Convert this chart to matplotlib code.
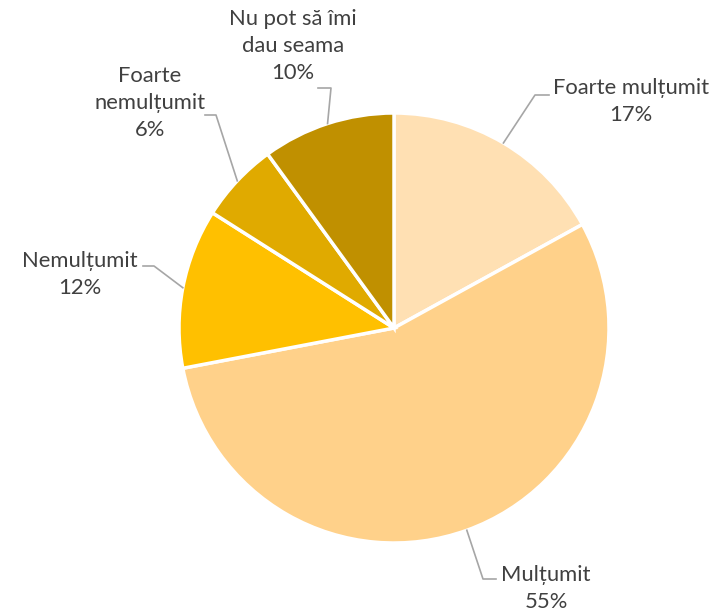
import numpy as np
import matplotlib.pyplot as plt

# data
labels = ['Foarte mulțumit', 'Mulțumit', 'Nemulțumit', 'Foarte\nnemulțumit', 'Nu pot să îmi\ndau seama']
values = [17, 55, 12, 6, 10]
colors = ['#FFE0B3', '#FFD18A', '#FFC000', '#E0AA00', '#C09000']

# label layout in pixel coords (x, y from top): text center x, text top y, elbow, line end
text_pos = [(631, 78), (546, 565), (80, 251), (150, 66), (293, 9)]
elbows = [(535, 95), (483, 579), (154, 266), (216, 115), (331, 88)]
line_ends = [(549, 95), (496, 579), (143, 266), (205, 115), (318, 88)]

W, H = 713, 611
fig = plt.figure(figsize=(W / 100, H / 100), dpi=100)
ax = fig.add_axes([0, 0, 1, 1])
ax.set_xlim(0, W)
ax.set_ylim(0, H)
ax.set_aspect('equal')
ax.axis('off')

cx, cy, r = 394, H - 328, 215
wedges, _ = ax.pie(values, colors=colors, startangle=90, counterclock=False,
                   center=(cx, cy), radius=r,
                   wedgeprops=dict(edgecolor='white', linewidth=2.5))
ax.set_xlim(0, W)
ax.set_ylim(0, H)

font = ['Lato', 'DejaVu Sans']
for i, w in enumerate(wedges):
    ang = np.deg2rad((w.theta1 + w.theta2) / 2)
    ex, ey = cx + r * np.cos(ang), cy + r * np.sin(ang)
    bx, by = elbows[i]
    lx, ly = line_ends[i]
    ax.plot([ex, bx, lx], [ey, H - by, H - ly], color='#A6A6A6', lw=1.2)
    tx, ty = text_pos[i]
    ax.text(tx, H - ty, labels[i] + '\n' + str(values[i]) + '%', ha='center', va='top',
            fontsize=15.8, color='#404040', family=font, linespacing=1.45)

plt.savefig('out.png', dpi=100)
